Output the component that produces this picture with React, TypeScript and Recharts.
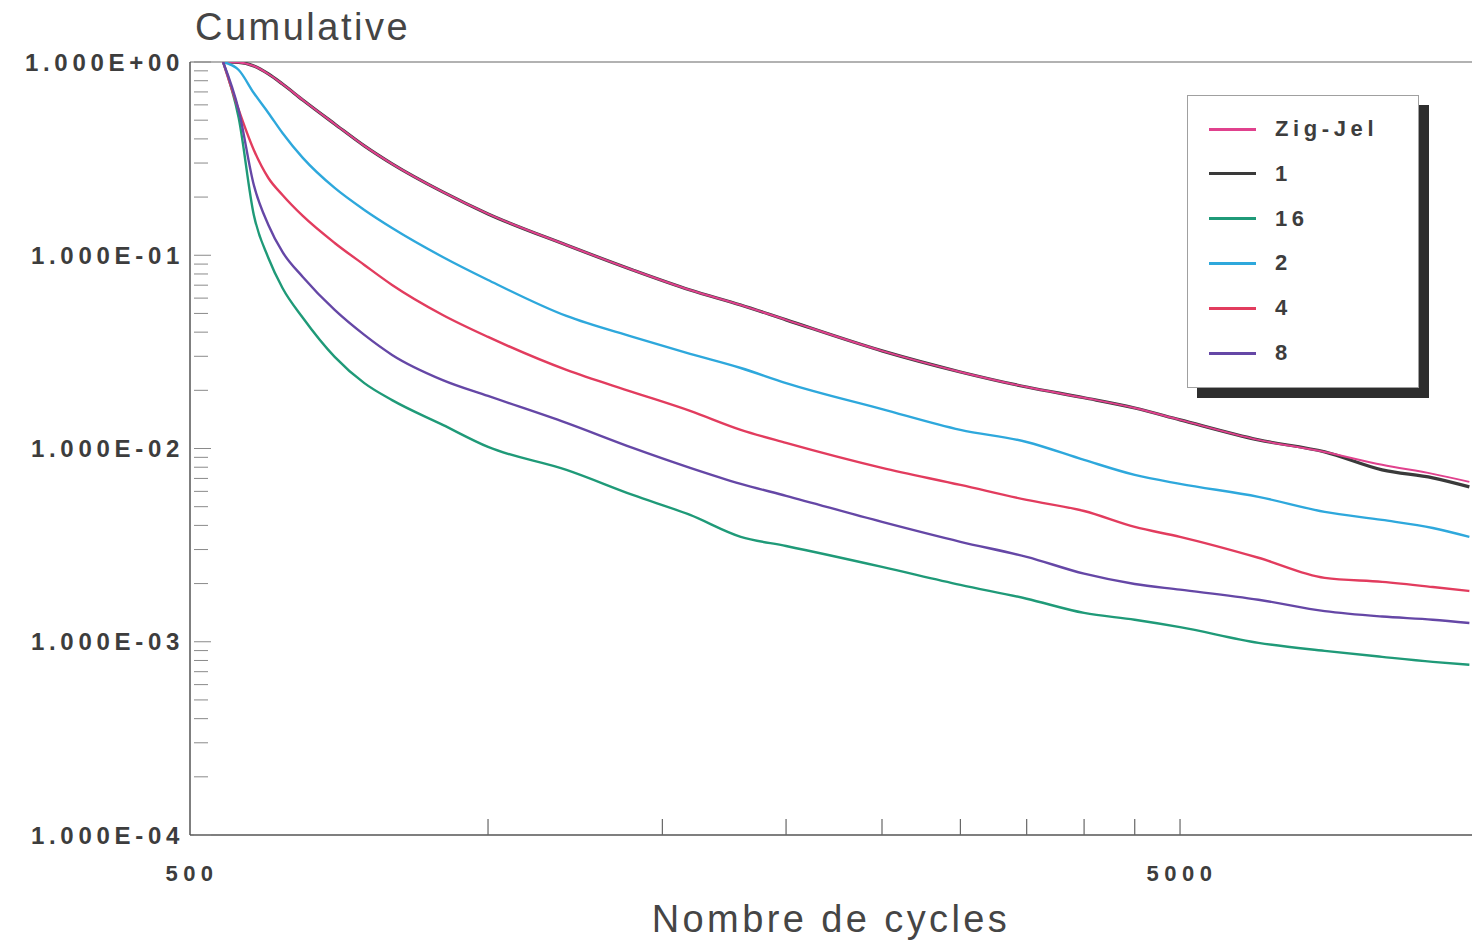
import React from 'react';
import { LineChart, Line, XAxis, YAxis, ReferenceLine, Legend } from 'recharts';

const cycles = [540, 560, 580, 600, 620, 650, 700, 750, 800, 900, 1000, 1200, 1400, 1600, 1800, 2000, 2500, 3000, 3500, 4000, 4500, 5000, 6000, 7000, 8000, 9000, 9800];

const zigJel = [1, 0.995, 0.953, 0.867, 0.769, 0.636, 0.478, 0.368, 0.297, 0.2126, 0.1636, 0.113, 0.0839, 0.0661, 0.0553, 0.0463, 0.032, 0.0249, 0.0208, 0.0183, 0.0162, 0.01406, 0.01108, 0.0096, 0.00823, 0.00739, 0.00672];
const one = [1, 0.995, 0.953, 0.867, 0.769, 0.636, 0.478, 0.368, 0.297, 0.2126, 0.1636, 0.113, 0.0839, 0.0661, 0.0553, 0.0463, 0.032, 0.0249, 0.0208, 0.0183, 0.0162, 0.01406, 0.01108, 0.0096, 0.00775, 0.00705, 0.00633];
const sixteen = [1, 0.513, 0.1616, 0.0968, 0.0677, 0.0475, 0.0298, 0.0218, 0.0178, 0.01325, 0.01019, 0.00775, 0.00575, 0.00453, 0.00349, 0.00313, 0.00244, 0.00197, 0.00167, 0.00141, 0.0013, 0.00119, 0.000987, 0.000897, 0.000835, 0.000787, 0.00076];
const two = [1, 0.909, 0.691, 0.545, 0.429, 0.319, 0.223, 0.1716, 0.1384, 0.098, 0.0745, 0.0485, 0.0378, 0.0309, 0.0261, 0.0218, 0.016, 0.01249, 0.01081, 0.00873, 0.0073, 0.00656, 0.00562, 0.0047, 0.00427, 0.00388, 0.00349];
const four = [1, 0.565, 0.3505, 0.251, 0.205, 0.1597, 0.1158, 0.0891, 0.0702, 0.0491, 0.0378, 0.0255, 0.0196, 0.01565, 0.01249, 0.01069, 0.00794, 0.00648, 0.00542, 0.00475, 0.00393, 0.00349, 0.00272, 0.00214, 0.00204, 0.00192, 0.00183];
const eight = [1, 0.563, 0.231, 0.1435, 0.104, 0.0772, 0.0521, 0.0387, 0.0305, 0.0226, 0.0187, 0.01357, 0.01007, 0.00794, 0.00656, 0.00569, 0.00417, 0.00329, 0.00275, 0.00225, 0.00199, 0.00186, 0.00165, 0.00144, 0.00135, 0.0013, 0.00125];

const seriesKeys = ['zigJel', 'one', 'sixteen', 'two', 'four', 'eight'];
const seriesNames = ['Zig-Jel', '1', '16', '2', '4', '8'];
const seriesColors = ['#e0418d', '#3a3a3a', '#1f9a78', '#2ea8dc', '#e23c5e', '#6547a6'];
const seriesValues = [zigJel, one, sixteen, two, four, eight];
// black goes under the pink one, as in the print
const drawOrder = [1, 0, 2, 3, 4, 5];

const xTicks = [500, 1000, 1500, 2000, 2500, 3000, 3500, 4000, 4500, 5000];
const xTickLabels = ['500', '', '', '', '', '', '', '', '', '5000'];
const yDecades = [1, 0.1, 0.01, 0.001, 0.0001];
const yDecadeLabels = ['1.000E+00', '1.000E-01', '1.000E-02', '1.000E-03', '1.000E-04'];
const yMinorSteps = [2, 3, 4, 5, 6, 7, 8, 9];

const yTicks = [...yDecades, ...yDecades.slice(1).flatMap((d) => yMinorSteps.map((m) => d * m))];

const data = cycles.map((c, i) => {
  const row: Record<string, number> = { cycles: c };
  seriesKeys.forEach((k, s) => {
    row[k] = seriesValues[s][i];
  });
  return row;
});

const FONT = '"Liberation Sans", Arial, sans-serif';
const INK = '#3d3d3d';

const YTick = ({ x, y, payload }: any) => {
  const idx = yDecades.findIndex((d) => Math.abs(d - payload.value) < d * 1e-6);
  const axisX = x + 10;
  return (
    <g>
      <line x1={axisX + 4} x2={axisX + (idx >= 0 ? 21 : 18)} y1={y} y2={y} stroke="#8a8a8a" strokeWidth={1} />
      {idx >= 0 && (
        <text x={x + 4} y={y} textAnchor="end" dominantBaseline="central" fontFamily={FONT} fontSize={24} fontWeight="bold" letterSpacing={4.7} fill={INK}>
          {yDecadeLabels[idx]}
        </text>
      )}
    </g>
  );
};

const XTick = ({ x, y, payload }: any) => {
  const idx = xTicks.indexOf(payload.value);
  const label = idx >= 0 ? xTickLabels[idx] : '';
  return (
    <g>
      {payload.value !== 500 && <line x1={x} x2={x} y1={y} y2={y - 16} stroke="#666" strokeWidth={1.2} />}
      {label && (
        <text x={x + 2} y={y + 46} textAnchor="middle" fontFamily={FONT} fontSize={22} fontWeight="bold" letterSpacing={5.5} fill={INK}>
          {label}
        </text>
      )}
    </g>
  );
};

const LegendBox = () => (
  <div
    style={{
      position: 'relative',
      width: 230,
      height: 291,
      border: '1px solid #a0a0a0',
      background: '#fff',
      boxShadow: '10px 10px 0 #2e2e2e',
      fontFamily: FONT,
    }}
  >
    {seriesNames.map((name, i) => (
      <div key={name} style={{ position: 'absolute', left: 0, top: 33 + i * 44.8, height: 0 }}>
        <div style={{ position: 'absolute', left: 21, top: -1.5, width: 47, height: 3, background: seriesColors[i] }} />
        <div style={{ position: 'absolute', left: 87, top: -13, fontSize: 22, fontWeight: 'bold', letterSpacing: 4.6, color: INK, lineHeight: '26px', whiteSpace: 'nowrap' }}>
          {name}
        </div>
      </div>
    ))}
  </div>
);

export default function App() {
  return (
    <div style={{ position: 'absolute', left: 0, top: 0, width: 1472, height: 940, background: '#fff' }}>
      <div style={{ position: 'absolute', left: 195, top: 7, fontFamily: FONT, fontSize: 38, letterSpacing: 2.5, color: '#454545', lineHeight: '40px' }}>
        Cumulative
      </div>
      <LineChart width={1472} height={940} data={data} margin={{ top: 62, right: 0, bottom: 0, left: 0 }}>
        <XAxis
          dataKey="cycles"
          type="number"
          scale="log"
          domain={[500, 9860]}
          allowDataOverflow
          ticks={xTicks}
          interval={0}
          tickSize={0}
          tickMargin={0}
          tick={<XTick />}
          height={105}
          axisLine={{ stroke: '#555', strokeWidth: 1.5 }}
          label={{ value: 'Nombre de cycles', position: 'insideBottom', offset: 8, fontFamily: FONT, fontSize: 38, letterSpacing: 3.4, fill: '#454545' }}
        />
        <YAxis
          type="number"
          scale="log"
          domain={[0.0001, 1]}
          allowDataOverflow
          ticks={yTicks}
          interval={0}
          tickSize={0}
          tickMargin={10}
          tick={<YTick />}
          width={190}
          axisLine={{ stroke: '#555', strokeWidth: 1.5 }}
        />
        <ReferenceLine y={1} stroke="#666" strokeWidth={1.2} />
        <Legend
          layout="vertical"
          align="center"
          verticalAlign="middle"
          width={232}
          height={293}
          wrapperStyle={{ left: 1187, top: 95 }}
          content={() => <LegendBox />}
        />
        {drawOrder.map((i) => (
          <Line
            key={seriesKeys[i]}
            type="monotone"
            dataKey={seriesKeys[i]}
            name={seriesNames[i]}
            stroke={seriesColors[i]}
            strokeWidth={i === 1 ? 3.2 : i === 0 ? 2 : 2.4}
            dot={false}
            isAnimationActive={false}
          />
        ))}
      </LineChart>
    </div>
  );
}
